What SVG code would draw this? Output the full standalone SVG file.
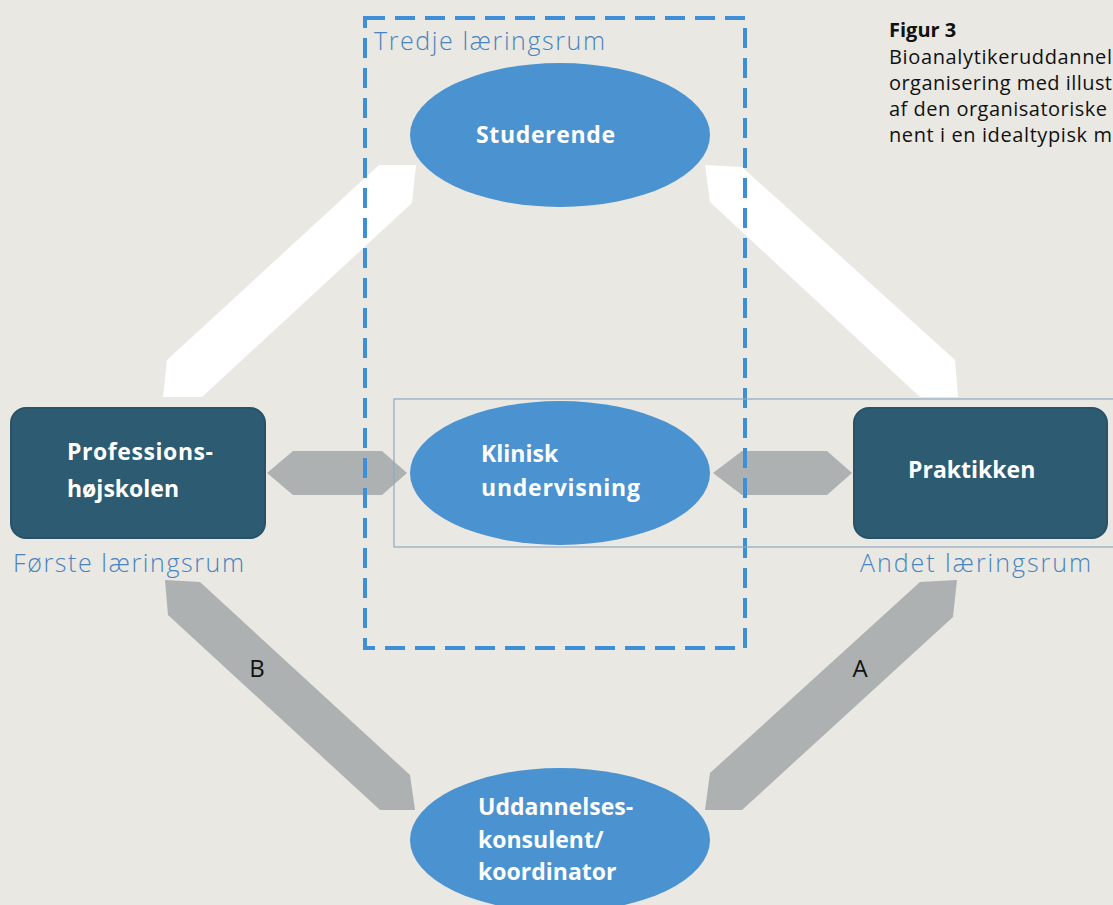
<svg xmlns="http://www.w3.org/2000/svg" width="1113" height="905" viewBox="0 0 1113 905">
<style>
.ell{fill:#4a92d0}
.box{fill:#2c5b72;stroke:#285267;stroke-width:2}
.wt{fill:#ffffff;font-family:"Open Sans","Noto Sans",sans-serif;font-weight:700;font-size:23px}
.lbl{fill:#4a84bd;font-family:"Open Sans","Noto Sans",sans-serif;font-weight:300;font-size:25px}
.cap{fill:#111;font-family:"Open Sans","Noto Sans",sans-serif;font-size:20px}
.gray{fill:#aeb1b1}
.white{fill:#ffffff}
.ab{fill:#111;font-family:"Open Sans","Noto Sans",sans-serif;font-size:24px}
</style>
<rect width="1113" height="905" fill="#e9e8e3"/>
<g id="connectors">
<polygon class="white" points="163,397 167,360 379,165 416,165 412,203 202,397"/>
<polygon class="white" points="705,165 742,167 955,360 958,397 920,397 710,202"/>
<polygon class="gray" points="267,473 293,451 382,451 407,473 382,495 293,495"/>
<polygon class="gray" points="713,473 742,451 827,451 852,473 827,495 742,495"/>
<polygon class="gray" points="165,580 200,582 410,775 415,810 380,810 168,615"/>
<polygon class="gray" points="920,582 957,580 953,617 742,810 705,810 710,773"/>
<text class="ab" x="257" y="677" text-anchor="middle">B</text>
<text class="ab" x="860" y="677" text-anchor="middle">A</text>
</g>
<g id="tredje">
<rect x="365" y="18" width="380" height="630" fill="none" stroke="#3f8fd8" stroke-width="4" stroke-dasharray="20 10"/>
<text class="lbl" x="374" y="50" textLength="231">Tredje læringsrum</text>
</g>
<g id="klinisk-frame">
<rect x="394" y="399" width="740" height="148" fill="none" stroke="#8fa8c0" stroke-width="1.2"/>
</g>
<g id="studerende">
<ellipse class="ell" cx="560" cy="135" rx="150" ry="72"/>
<text class="wt" x="476" y="143" textLength="139">Studerende</text>
</g>
<g id="klinisk">
<ellipse class="ell" cx="560" cy="473" rx="150" ry="72"/>
<text class="wt" x="481" y="462">Klinisk</text>
<text class="wt" x="481" y="496" textLength="159">undervisning</text>
</g>
<g id="uddannelse">
<ellipse class="ell" cx="560" cy="840" rx="150" ry="72"/>
<text class="wt" x="478" y="815">Uddannelses-</text>
<text class="wt" x="478" y="848">konsulent/</text>
<text class="wt" x="478" y="880">koordinator</text>
</g>
<g id="professionshojskolen">
<rect class="box" x="11" y="408" width="254" height="130" rx="15"/>
<text class="wt" x="67" y="460" textLength="146">Professions-</text>
<text class="wt" x="67" y="497">højskolen</text>
<text class="lbl" x="13" y="572" textLength="231">Første læringsrum</text>
</g>
<g id="praktikken">
<rect class="box" x="854" y="408" width="253" height="130" rx="15"/>
<text class="wt" x="908" y="478">Praktikken</text>
<text class="lbl" x="860" y="572" textLength="231">Andet læringsrum</text>
</g>
<g id="caption">
<text class="cap" x="889" y="37" font-weight="700">Figur 3</text>
<text class="cap" x="889" y="64" textLength="223">Bioanalytikeruddannel</text>
<text class="cap" x="889" y="90" textLength="223">organisering med illust</text>
<text class="cap" x="889" y="116" textLength="218">af den organisatoriske</text>
<text class="cap" x="889" y="142" textLength="223">nent i en idealtypisk m</text>
</g>
</svg>
